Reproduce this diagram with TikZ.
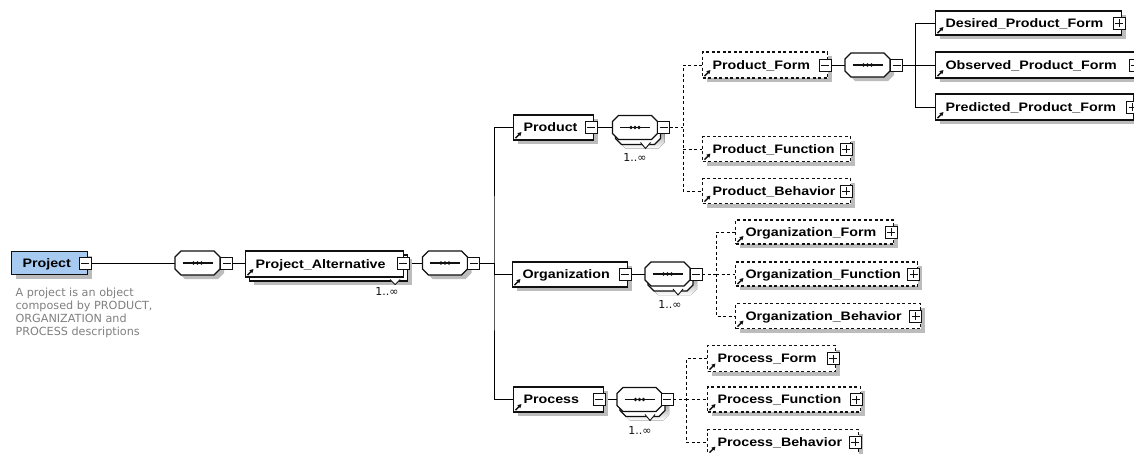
\documentclass[tikz,border=0pt]{standalone}
\usepackage{fontspec}
\setmainfont{DejaVu Sans}
\newfontfamily\lblfamily[FakeStretch=1.16]{Liberation Sans}
\usetikzlibrary{shadows,arrows.meta}
\pgfdeclarelayer{wires}
\pgfsetlayers{wires,main}

\definecolor{shade}{RGB}{188,188,188}
\definecolor{rootblue}{RGB}{166,202,240}
\definecolor{notegray}{RGB}{128,128,128}
\definecolor{ink}{RGB}{16,16,16}

\newcommand\lbl{\lblfamily\bfseries\fontsize{12.3}{13.5}\selectfont}

% octagonal outline of a sequence compositor, on the frame of node #1
\newcommand\octpath[1]{([xshift=6pt]#1.north west) -- ([xshift=-6pt]#1.north east)
  -- ([yshift=-6pt]#1.north east) -- ([yshift=6pt]#1.south east)
  -- ([xshift=-6pt]#1.south east) -- ([xshift=6pt]#1.south west)
  -- ([yshift=6pt]#1.south west) -- ([yshift=-6pt]#1.north west) -- cycle}

% the "line with three dots" glyph inside a compositor
\newcommand\seqglyph[1]{%
  \draw ([xshift=-15pt]#1.center) -- ([xshift=15pt]#1.center);
  \foreach \dx in {-4pt,0pt,4pt} \fill ([xshift=\dx]#1.center) circle (1.8pt);}

% single compositor
\newcommand\seqone[1]{%
  \draw[fill=white, general shadow={fill=shade, shadow xshift=4pt, shadow yshift=-4pt}] \octpath{#1};
  \seqglyph{#1}}

% repeated compositor (1..unbounded): stacked copy with a notch
\newcommand\seqmany[1]{%
  \fill[shade, transform canvas={shift={(7pt,-9pt)}}] \octpath{#1};
  \draw[fill=white, transform canvas={shift={(3pt,-5pt)}}] \octpath{#1};
  \fill[white] ([shift={(-17pt,-3pt)}]#1.south east) -- ([shift={(-12pt,-10pt)}]#1.south east)
     -- ([shift={(-7pt,-3pt)}]#1.south east) -- cycle;
  \draw[line width=.9pt] ([shift={(-17pt,-3pt)}]#1.south east) -- ([shift={(-12pt,-9pt)}]#1.south east)
     -- ([shift={(-7pt,-3pt)}]#1.south east);
  \draw[fill=white] \octpath{#1};
  \seqglyph{#1}}

\begin{document}
\begin{tikzpicture}[x=1pt, y=-1pt, line width=1.15pt, color=ink,
  elembase/.style={draw=ink, fill=white, line width=1.1pt, anchor=west,
    minimum height=25pt, inner xsep=10pt, inner ysep=0pt,
    text height=10.8pt, text depth=2pt, align=left, font=\lbl, text=black},
  elem/.style={elembase,
    general shadow={fill=shade, shadow xshift=4pt, shadow yshift=-4pt}},
  optelem/.style={elem, dash pattern=on 3pt off 2.5pt},
  manyelem/.style={elembase,
    general shadow={fill=shade, shadow xshift=8pt, shadow yshift=-8pt},
    general shadow={fill=white, draw=ink, line width=1.1pt, shadow xshift=4pt, shadow yshift=-4pt}},
  frame/.style={minimum width=45pt, minimum height=24pt, inner sep=0pt, outer sep=0pt},
  pmbase/.style={draw=ink, fill=white, line width=.9pt, minimum size=12pt, inner sep=0pt},
  minus/.style={pmbase, path picture={\draw[line width=1pt]
      ([xshift=-4pt]path picture bounding box.center) -- ([xshift=4pt]path picture bounding box.center);}},
  plus/.style={pmbase, path picture={\draw[line width=1pt]
      ([xshift=-4pt]path picture bounding box.center) -- ([xshift=4pt]path picture bounding box.center)
      ([yshift=-4pt]path picture bounding box.center) -- ([yshift=4pt]path picture bounding box.center);}},
  refarrow/.style={line width=1.4pt, -{Triangle[length=3.8pt, width=4pt]}},
  optwire/.style={dash pattern=on 3pt off 2.5pt},
  card/.style={font=\fontsize{11}{13}\selectfont, inner sep=0pt, text=ink},
  note/.style={anchor=north west, inner sep=0pt, align=left, text=notegray,
    font=\fontsize{11.2}{13.2}\selectfont}
]
\useasboundingbox (0,0) rectangle (1134,453);

% ---- elements ----
\node[elem, fill=rootblue, inner xsep=11pt, text width=54pt, minimum height=23pt] (proj) at (11,263) {Project};
\node[manyelem, text width=138pt, minimum height=26pt] (pa) at (245,264) {Project\_Alternative};

\node[elem, text width=60pt] (product) at (513,127.5) {Product};
\node[elem, text width=95pt] (org) at (512,274.5) {Organization};
\node[elem, text width=70pt] (process) at (513,399.5) {Process};

\node[optelem, text width=105pt, minimum height=26pt] (pform) at (702,65) {Product\_Form};
\node[optelem, text width=128pt] (pfunc) at (702,149) {Product\_Function};
\node[optelem, text width=128pt] (pbeh) at (702,191) {Product\_Behavior};

\node[elem, text width=166pt, minimum height=24pt] (desired) at (935,23) {Desired\_Product\_Form};
\node[elem, text width=180pt, minimum height=26pt] (observed) at (935,65) {Observed\_Product\_Form};
\node[elem, text width=178pt, minimum height=26pt] (predicted) at (935,107) {Predicted\_Product\_Form};

\node[optelem, text width=138pt, minimum height=24pt] (oform) at (735,232) {Organization\_Form};
\node[optelem, text width=162pt, minimum height=24pt] (ofunc) at (735,274) {Organization\_Function};
\node[optelem, text width=165pt] (obeh) at (735,316) {Organization\_Behavior};

\node[optelem, text width=108pt, minimum height=26pt] (prform) at (707,358.5) {Process\_Form};
\node[optelem, text width=133pt] (prfunc) at (707,399.5) {Process\_Function};
\node[optelem, text width=131pt] (prbeh) at (707,442) {Process\_Behavior};

% reference arrows in the lower left corner of each element
\foreach \n in {pa,product,org,process,pform,pfunc,pbeh,desired,observed,predicted,
                oform,ofunc,obeh,prform,prfunc,prbeh}
  \draw[refarrow] ([shift={(2.5pt,2.5pt)}]\n.south west) -- ([shift={(8.5pt,8.5pt)}]\n.south west);

% notch of the repeated element
\fill[white] ([shift={(-14pt,-2pt)}]pa.south east) -- ([shift={(-9pt,-8pt)}]pa.south east)
   -- ([shift={(-4pt,-2pt)}]pa.south east) -- cycle;
\draw[line width=.9pt] ([shift={(-14pt,-2pt)}]pa.south east) -- ([shift={(-9pt,-7pt)}]pa.south east)
   -- ([shift={(-4pt,-2pt)}]pa.south east);

% ---- sequence compositors ----
\node[frame] (s1) at (197.5,263) {};
\node[frame] (s2) at (445,263) {};
\node[frame] (s3) at (635,127.5) {};
\node[frame] (s4) at (867.5,65) {};
\node[frame] (s5) at (667.5,274) {};
\node[frame] (s6) at (639.5,399.5) {};
\seqone{s1}
\seqone{s2}
\seqone{s4}
\seqmany{s3}
\seqmany{s5}
\seqmany{s6}

% ---- collapse / expand buttons ----
\node[minus] (m-proj) at (85,263) {};
\node[minus] (m-s1) at (226.5,263) {};
\node[minus] (m-pa) at (403,263) {};
\node[minus] (m-s2) at (473.5,263) {};
\node[minus] (m-product) at (591,127.5) {};
\node[minus] (m-s3) at (663.5,127.5) {};
\node[minus] (m-pform) at (825,65) {};
\node[minus] (m-s4) at (896.5,65) {};
\node[plus] (p-desired) at (1119,23) {};
\node[plus] (p-observed) at (1135,65) {};
\node[plus] (p-predicted) at (1132.5,107) {};
\node[plus] (p-pfunc) at (846,149) {};
\node[plus] (p-pbeh) at (846,191) {};
\node[minus] (m-org) at (625,274.5) {};
\node[minus] (m-s5) at (696,274) {};
\node[plus] (p-oform) at (891,232) {};
\node[plus] (p-ofunc) at (913.5,274) {};
\node[plus] (p-obeh) at (915.5,316) {};
\node[minus] (m-process) at (599,399.5) {};
\node[minus] (m-s6) at (667,399.5) {};
\node[plus] (p-prform) at (833,358.5) {};
\node[plus] (p-prfunc) at (856,399.5) {};
\node[plus] (p-prbeh) at (855,442) {};

% ---- annotations ----
\node[note] (doc) at (15,287.3) {A project is an object\\composed by PRODUCT,\\ORGANIZATION and\\PROCESS descriptions};
\node[card] (c-pa) at (387,291) {1..∞};
\node[card] (c-s3) at (635,157) {1..∞};
\node[card] (c-s5) at (670,304) {1..∞};
\node[card] (c-s6) at (640,430) {1..∞};

% ---- connectors ----
\coordinate (b1) at (494,263);
\coordinate (b2) at (683,127.5);
\coordinate (b3) at (915,65);
\coordinate (b4) at (716,274);
\coordinate (b5) at (686,399.5);

\begin{pgfonlayer}{wires}
\fill[white] (0,0) rectangle (1134,453);
\draw (m-proj.east) -- (m-proj.east -| s1.west);
\draw (m-s1.east) -- (m-s1.east -| pa.west);
\draw (m-pa.east) -- (m-pa.east -| s2.west);
\draw (m-s2.east) -- (b1);
\draw (product.west) -| (b1) |- (process.west);
\draw (b1) |- (org.west);

\draw (m-product.east) -- (m-product.east -| s3.west);
\draw[optwire] (m-s3.east) -- (b2);
\draw[optwire] (pform.west) -| (b2) |- (pbeh.west);
\draw[optwire] (b2 |- pfunc.west) -- (pfunc.west);

\draw (m-pform.east) -- (m-pform.east -| s4.west);
\draw (m-s4.east) -- (b3);
\draw (desired.west) -| (b3) |- (predicted.west);
\draw (b3) -- (observed.west);

\draw (m-org.east) -- (m-org.east -| s5.west);
\draw[optwire] (m-s5.east) -- (b4);
\draw[optwire] (oform.west) -| (b4) |- (obeh.west);
\draw[optwire] (b4) -- (ofunc.west);

\draw (m-process.east) -- (m-process.east -| s6.west);
\draw[optwire] (m-s6.east) -- (b5);
\draw[optwire] (prform.west) -| (b5) |- (prbeh.west);
\draw[optwire] (b5) -- (prfunc.west);
\end{pgfonlayer}
\end{tikzpicture}
\end{document}
